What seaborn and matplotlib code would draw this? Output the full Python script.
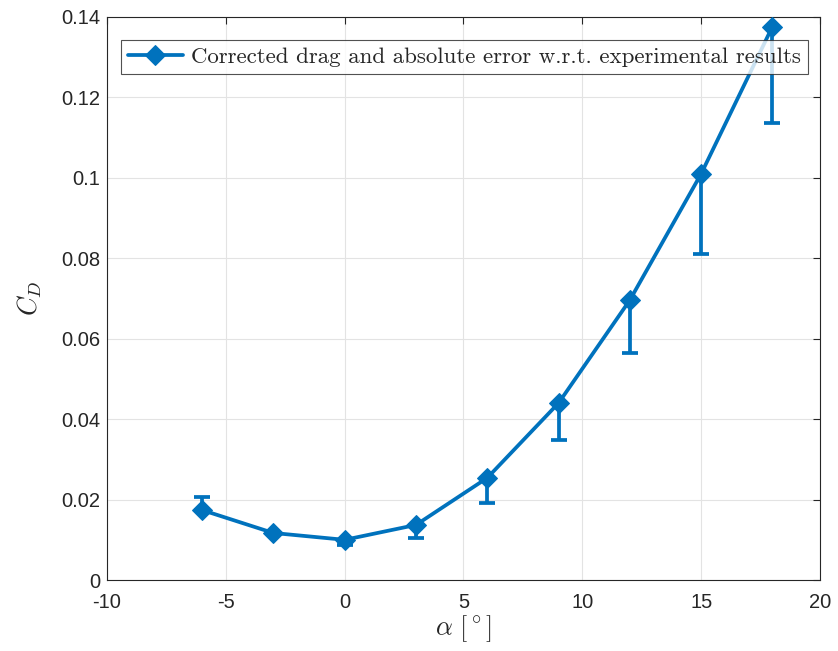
import matplotlib
matplotlib.use("Agg")
import matplotlib.pyplot as plt
import seaborn as sns
import numpy as np
import pandas as pd

alpha = [-6, -3, 0, 3, 6, 9, 12, 15, 18]
cd = [0.0174, 0.0117, 0.0100, 0.0137, 0.0254, 0.0440, 0.0696, 0.1010, 0.1376]
err_lower = [0.0, 0.0, 0.0013, 0.0033, 0.0063, 0.0092, 0.0132, 0.0199, 0.0240]
err_upper = [0.0032, 0.0, 0.0, 0.0, 0.0, 0.0, 0.0, 0.0, 0.0]
xticks = [-10, -5, 0, 5, 10, 15, 20]
yticks = [0, 0.02, 0.04, 0.06, 0.08, 0.1, 0.12, 0.14]
ytick_labels = ["0", "0.02", "0.04", "0.06", "0.08", "0.1", "0.12", "0.14"]
legend_label = "Corrected drag and absolute error w.r.t. experimental results"

sns.set_style("white")
plt.rcParams["font.family"] = ["Liberation Sans", "DejaVu Sans"]
plt.rcParams["mathtext.fontset"] = "cm"
plt.rcParams["axes.unicode_minus"] = False

color = "#0072BD"
df = pd.DataFrame({"alpha": alpha, "cd": cd})

fig = plt.figure(figsize=(8.38, 6.51), dpi=100)
ax = fig.add_axes([0.1277, 0.109, 0.8508, 0.865])

ax.errorbar(alpha, cd, yerr=[err_lower, err_upper], fmt="none", ecolor=color,
            elinewidth=2.7, capsize=6, capthick=2.7, zorder=2)
sns.lineplot(data=df, x="alpha", y="cd", ax=ax, color=color, linewidth=2.7,
             marker="D", markersize=10, markeredgecolor=color, markerfacecolor=color,
             label=legend_label, zorder=3)

ax.set_xlim(-10, 20)
ax.set_ylim(0, 0.14)
ax.set_xticks(xticks)
ax.set_xticklabels([str(t) for t in xticks])
ax.set_yticks(yticks)
ax.set_yticklabels(ytick_labels)
ax.tick_params(axis="both", direction="in", length=5, width=0.8, colors="#262626",
               labelsize=14.5, top=True, right=True, labelcolor="#262626", pad=5)
ax.tick_params(axis="x", pad=9)
ax.grid(True, color="#e3e3e3", linewidth=0.8)
ax.set_axisbelow(True)
for s in ax.spines.values():
    s.set_color("#262626")
    s.set_linewidth(0.8)

ax.set_xlabel(r"$\alpha\ [^\circ]$", fontsize=19, color="#262626", labelpad=1)
ax.set_ylabel(r"$C_D$", fontsize=19, color="#262626", labelpad=12)

leg = ax.legend(loc="upper right", bbox_to_anchor=(0.9925, 0.9715),
                prop={"family": "cmr10", "size": 16.5}, frameon=True, fancybox=False,
                handlelength=2.4, handletextpad=0.35, borderpad=0.3,
                borderaxespad=0.3)
leg.get_frame().set_edgecolor("#262626")
leg.get_frame().set_linewidth(0.8)

fig.savefig("out.png", dpi=100)
